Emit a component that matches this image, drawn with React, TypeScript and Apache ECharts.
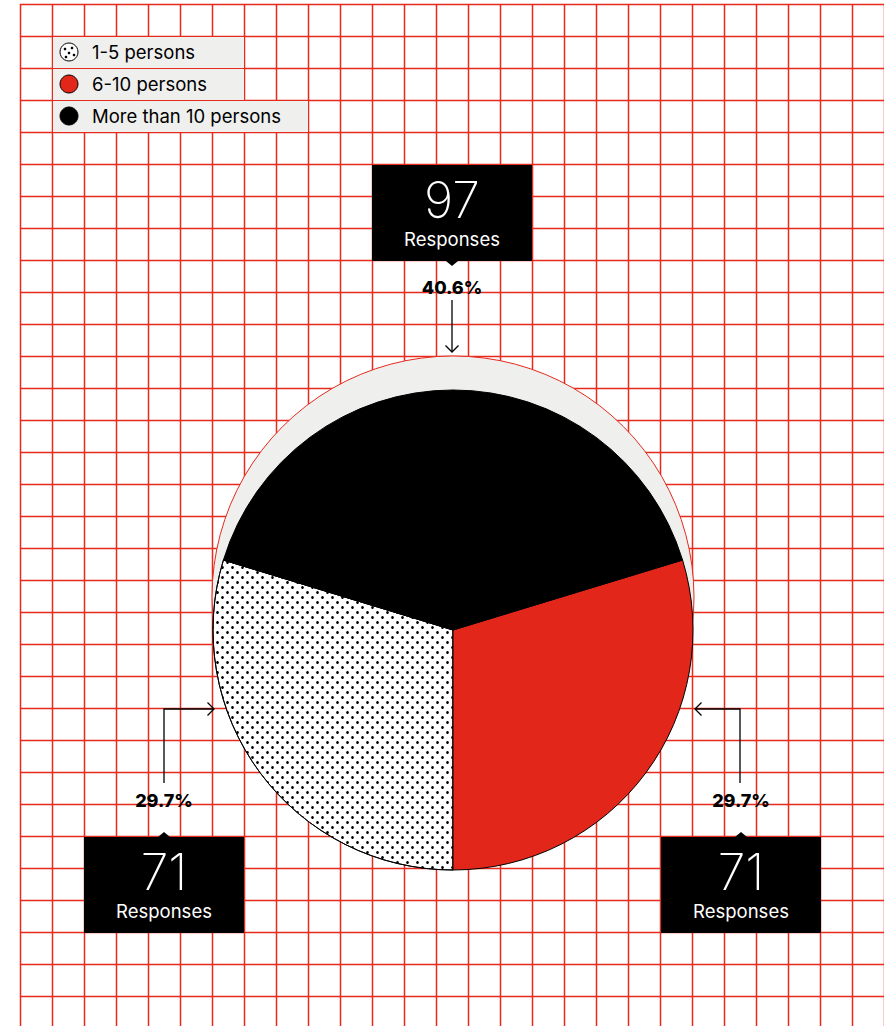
import React, { useEffect, useRef } from 'react';
import * as echarts from 'echarts';

// ---------- data ----------
const categories = ['1-5 persons', '6-10 persons', 'More than 10 persons'];
const responses = [71, 71, 97];
const unitLabel = 'Responses';

// ---------- layout / style ----------
const W = 884;
const H = 1026;
const GRID_X0 = 20;
const GRID_Y0 = 4;
const CELL = 32;
const RED = '#e3261a';
const GRID_RED = '#e62a1d';
const LIGHT = '#efefed';
const FONT = 'Inter, "Liberation Sans", Arial, sans-serif';
const PIE_CENTER = [453, 630];
const PIE_R = 240;
const SHADOW_CENTER = [453, 597];
const BOX_W = 160;
const BOX_H = 96;

const legendBoxWidths = [192, 192, 256];
const callouts = [
  { box: [84, 837], pct: [164, 800], path: [[164, 783], [164, 709], [214, 709]], pointerUp: true },
  { box: [661, 837], pct: [741, 800], path: [[740, 783], [740, 709], [695, 709]], pointerUp: true },
  { box: [372, 165], pct: [452, 287], path: [[452, 300], [452, 352]], pointerUp: false },
];

const dotDecal = {
  symbol: 'circle',
  symbolSize: 0.55,
  color: '#000',
  backgroundColor: '#fff',
  dashArrayX: [[5, 5], [0, 5, 5, 0]],
  dashArrayY: [5, 0],
};
const sliceStyles = [
  { color: '#fff', decal: dotDecal },
  { color: RED },
  { color: '#000' },
];

function buildGraphic(total: number) {
  const els: any[] = [];
  // grid
  for (let x = GRID_X0; x <= W + 1; x += CELL) {
    els.push({ type: 'line', z: 0, silent: true, shape: { x1: x + 0.5, y1: GRID_Y0, x2: x + 0.5, y2: H }, style: { stroke: GRID_RED, lineWidth: 1.5 } });
  }
  for (let y = GRID_Y0; y <= H + 1; y += CELL) {
    els.push({ type: 'line', z: 0, silent: true, shape: { x1: GRID_X0, y1: y + 0.5, x2: W, y2: y + 0.5 }, style: { stroke: GRID_RED, lineWidth: 1.5 } });
  }
  // legend
  categories.forEach((name, i) => {
    const cy = GRID_Y0 + CELL * (i + 1) + CELL / 2;
    els.push({ type: 'rect', z: 5, shape: { x: GRID_X0 + CELL + 1, y: GRID_Y0 + CELL * (i + 1) + 1, width: legendBoxWidths[i] - 1, height: CELL - 1 }, style: { fill: LIGHT } });
    const fill = i === 0 ? '#fff' : i === 1 ? RED : '#000';
    els.push({ type: 'circle', z: 6, shape: { cx: 69, cy, r: 9 }, style: { fill, stroke: '#000', lineWidth: 1 } });
    if (i === 0) {
      [[-4, -3], [3, -4], [0, 1], [-3, 5], [5, 3]].forEach(([dx, dy]) => {
        els.push({ type: 'circle', z: 7, shape: { cx: 69 + dx, cy: cy + dy, r: 1.3 }, style: { fill: '#000' } });
      });
    }
    els.push({ type: 'text', z: 6, x: 92, y: cy, style: { text: name, fill: '#000', font: `18.5px ${FONT}`, textAlign: 'left', textVerticalAlign: 'middle' } });
  });
  // shadow circle behind pie
  els.push({ type: 'circle', z: 1, shape: { cx: SHADOW_CENTER[0], cy: SHADOW_CENTER[1], r: PIE_R + 1 }, style: { fill: LIGHT, stroke: GRID_RED, lineWidth: 1 } });
  // callouts
  callouts.forEach((c, i) => {
    const [bx, by] = c.box;
    const cx = bx + BOX_W / 2;
    els.push({ type: 'rect', z: 10, shape: { x: bx, y: by, width: BOX_W, height: BOX_H }, style: { fill: '#000' } });
    const tri = c.pointerUp
      ? [[cx - 6, by], [cx, by - 5], [cx + 6, by]]
      : [[cx - 6, by + BOX_H], [cx, by + BOX_H + 5], [cx + 6, by + BOX_H]];
    els.push({ type: 'polygon', z: 10, shape: { points: tri }, style: { fill: '#000' } });
    els.push({ type: 'text', z: 11, x: cx, y: by + 35, style: { text: String(responses[i]), fill: '#fff', font: `200 50px ${FONT}`, textAlign: 'center', textVerticalAlign: 'middle' } });
    els.push({ type: 'text', z: 11, x: cx, y: by + 74, style: { text: unitLabel, fill: '#fff', font: `18.5px ${FONT}`, textAlign: 'center', textVerticalAlign: 'middle' } });
    const pct = ((responses[i] / total) * 100).toFixed(1) + '%';
    els.push({ type: 'text', z: 11, x: c.pct[0], y: c.pct[1], style: { text: pct, fill: '#000', font: `800 18px ${FONT}`, textAlign: 'center', textVerticalAlign: 'middle' } });
    els.push({ type: 'polyline', z: 10, shape: { points: c.path }, style: { stroke: '#000', lineWidth: 1.3, fill: null } });
    const p1 = c.path[c.path.length - 2];
    const p2 = c.path[c.path.length - 1];
    const len = Math.hypot(p2[0] - p1[0], p2[1] - p1[1]);
    const dx = (p2[0] - p1[0]) / len;
    const dy = (p2[1] - p1[1]) / len;
    const a = 6.5;
    els.push({
      type: 'polyline', z: 10,
      shape: { points: [[p2[0] - a * dx - a * dy, p2[1] - a * dy + a * dx], p2, [p2[0] - a * dx + a * dy, p2[1] - a * dy - a * dx]] },
      style: { stroke: '#000', lineWidth: 1.3, fill: null },
    });
  });
  return els;
}

export default function App() {
  const ref = useRef<HTMLDivElement>(null);
  useEffect(() => {
    if (!ref.current) return;
    const chart = echarts.init(ref.current, null, { renderer: 'svg' });
    const total = responses.reduce((s, v) => s + v, 0);
    chart.setOption({
      animation: false,
      backgroundColor: '#fff',
      graphic: { elements: buildGraphic(total) },
      series: [
        {
          type: 'pie',
          z: 3,
          center: PIE_CENTER,
          radius: PIE_R,
          clockwise: false,
          startAngle: 270 - (360 * responses[0]) / total,
          silent: true,
          avoidLabelOverlap: false,
          label: { show: false },
          labelLine: { show: false },
          emphasis: { disabled: true },
          itemStyle: { borderColor: '#000', borderWidth: 1 },
          data: categories.map((name, i) => ({ name, value: responses[i], itemStyle: sliceStyles[i] })),
        },
      ],
    });
    return () => chart.dispose();
  }, []);
  return <div ref={ref} style={{ position: 'fixed', left: 0, top: 0, width: W, height: H }} />;
}
